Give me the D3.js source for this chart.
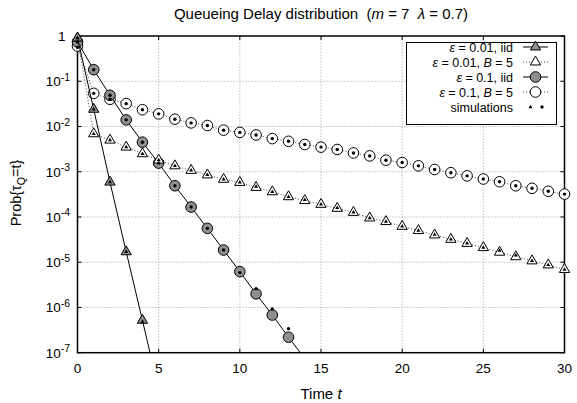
<!DOCTYPE html>
<html>
<head>
<meta charset="utf-8">
<script src="https://cdn.jsdelivr.net/npm/d3@7"></script>
<style>
  body { margin: 0; background: #fff; }
  svg { font-family: "Liberation Sans", Arial, sans-serif; }
  text { white-space: pre; }
</style>
</head>
<body>
<div id="chart"></div>
<script>
// queueing delay distribution, log scale

const timeSteps = [0,1,2,3,4,5,6,7,8,9,10,11,12,13,14,15,16,17,18,19,20,21,22,23,24,25,26,27,28,29,30];

// analytic curves (index = t)
const probEps001Iid = [0.9, 2.4e-2, 5.9e-4, 1.7e-5, 5.2e-7, 1.5e-8];
const probEps001B5 = [0.9, 6.9e-3, 5.0e-3, 3.5e-3, 2.5e-3, 1.8e-3, 1.35e-3, 1.07e-3, 8.5e-4, 6.8e-4,
  5.8e-4, 4.5e-4, 3.6e-4, 2.8e-4, 2.3e-4, 1.9e-4, 1.55e-4, 1.26e-4, 9.5e-5, 7.9e-5,
  6.2e-5, 5.0e-5, 4.0e-5, 3.2e-5, 2.6e-5, 2.1e-5, 1.66e-5, 1.32e-5, 1.07e-5, 8.7e-6, 6.9e-6];
const probEps01Iid = [0.74, 0.18, 4.9e-2, 1.4e-2, 4.5e-3, 1.55e-3, 4.9e-4, 1.66e-4, 5.6e-5, 1.86e-5,
  6.2e-6, 2.0e-6, 6.8e-7, 2.2e-7, 7.4e-8];
const probEps01B5 = [0.6, 5.4e-2, 4.0e-2, 3.2e-2, 2.35e-2, 1.9e-2, 1.45e-2, 1.2e-2, 1.05e-2, 8.3e-3,
  7.4e-3, 6.5e-3, 5.4e-3, 4.7e-3, 4.0e-3, 3.5e-3, 3.1e-3, 2.6e-3, 2.24e-3, 1.8e-3,
  1.6e-3, 1.35e-3, 1.12e-3, 9.5e-4, 8.1e-4, 6.9e-4, 6.0e-4, 4.9e-4, 4.3e-4, 3.7e-4, 3.2e-4];

// simulation points
const simEps001Iid = [0.9, 2.4e-2, 5.9e-4, 1.7e-5, 4.9e-7];
const simEps001B5 = [0.9, 6.9e-3, 5.0e-3, 3.5e-3, 2.5e-3, 1.8e-3, 1.35e-3, 1.07e-3, 8.5e-4, 6.8e-4,
  5.8e-4, 4.7e-4, 3.6e-4, 2.8e-4, 2.4e-4, 1.9e-4, 1.6e-4, 1.26e-4, 9.5e-5, 7.9e-5,
  6.2e-5, 5.0e-5, 4.1e-5, 3.2e-5, 2.6e-5, 2.1e-5, 1.8e-5, 1.42e-5, 1.07e-5, 8.7e-6, 6.9e-6];
const simEps01Iid = [0.74, 0.18, 4.9e-2, 1.4e-2, 4.5e-3, 1.55e-3, 4.9e-4, 1.66e-4, 5.6e-5, 1.86e-5,
  5.9e-6, 2.6e-6, 9.3e-7, 3.4e-7];
const simEps01B5 = [0.56, 5.4e-2, 4.0e-2, 3.2e-2, 2.35e-2, 1.9e-2, 1.45e-2, 1.2e-2, 1.05e-2, 8.3e-3,
  7.4e-3, 6.5e-3, 5.4e-3, 4.7e-3, 4.0e-3, 3.5e-3, 3.1e-3, 2.6e-3, 2.24e-3, 1.8e-3,
  1.6e-3, 1.35e-3, 1.12e-3, 9.5e-4, 8.1e-4, 6.9e-4, 6.0e-4, 4.9e-4, 4.3e-4, 3.7e-4, 3.2e-4];

const xTicks = [0, 5, 10, 15, 20, 25, 30];
const yExponents = [0, -1, -2, -3, -4, -5, -6, -7];

const W = 577, H = 403;
const margin = { top: 36, right: 12.5, bottom: 50.3, left: 77.5 };

const svg = d3.select("#chart").append("svg")
  .attr("width", W).attr("height", H);

const x = d3.scaleLinear().domain([0, 30]).range([margin.left, W - margin.right]);
const y = d3.scaleLog().domain([1e-7, 1]).range([H - margin.bottom, margin.top]);

const x0 = x.range()[0], x1 = x.range()[1];
const y0 = y.range()[0], y1 = y.range()[1];

svg.append("defs").append("clipPath").attr("id", "plot-clip")
  .append("rect").attr("x", x0).attr("y", y1).attr("width", x1 - x0).attr("height", y0 - y1);

// grid
const grid = svg.append("g").attr("stroke", "#888").attr("stroke-width", 0.8)
  .attr("stroke-dasharray", "1,2");
xTicks.slice(1, -1).forEach(t => {
  grid.append("line").attr("x1", x(t)).attr("x2", x(t)).attr("y1", y0).attr("y2", y1);
});
yExponents.slice(1, -1).forEach(e => {
  grid.append("line").attr("x1", x0).attr("x2", x1).attr("y1", y(Math.pow(10, e))).attr("y2", y(Math.pow(10, e)));
});

// axis tick marks (inward on all four sides)
const ticks = svg.append("g").attr("stroke", "#000").attr("stroke-width", 1);
xTicks.forEach(t => {
  ticks.append("line").attr("x1", x(t)).attr("x2", x(t)).attr("y1", y0).attr("y2", y0 - 4);
  ticks.append("line").attr("x1", x(t)).attr("x2", x(t)).attr("y1", y1).attr("y2", y1 + 4);
});
yExponents.forEach(e => {
  const yy = y(Math.pow(10, e));
  ticks.append("line").attr("x1", x0).attr("x2", x0 + 4).attr("y1", yy).attr("y2", yy);
  ticks.append("line").attr("x1", x1).attr("x2", x1 - 4).attr("y1", yy).attr("y2", yy);
});

// frame
svg.append("rect").attr("x", x0).attr("y", y1).attr("width", x1 - x0).attr("height", y0 - y1)
  .attr("fill", "none").attr("stroke", "#000").attr("stroke-width", 1.5);

// tick labels
svg.append("g").selectAll("text").data(xTicks).enter().append("text")
  .attr("x", d => x(d)).attr("y", y0 + 20.5)
  .attr("text-anchor", "middle").attr("font-size", "13.5px").text(d => d);

yExponents.forEach(e => {
  const t = svg.append("text")
    .attr("y", y(Math.pow(10, e)) + 4.8)
    .attr("text-anchor", "end").attr("font-size", "13.5px");
  if (e === 0) {
    t.attr("x", 65.5).text("1");
  } else {
    t.attr("x", 70).text("10");
    t.append("tspan").attr("dy", -5.5).attr("font-size", "10.5px").text(String(e));
  }
});

// titles
const title = svg.append("text").attr("x", (x0 + x1) / 2).attr("y", 19)
  .attr("text-anchor", "middle").attr("font-size", "15px");
title.append("tspan").text("Queueing Delay distribution  (");
title.append("tspan").attr("font-style", "italic").text("m");
title.append("tspan").text(" = 7  ");
title.append("tspan").attr("font-style", "italic").text("λ");
title.append("tspan").text(" = 0.7)");

const xLabel = svg.append("text").attr("x", (x0 + x1) / 2).attr("y", 399)
  .attr("text-anchor", "middle").attr("font-size", "15px");
xLabel.append("tspan").text("Time ");
xLabel.append("tspan").attr("font-style", "italic").text("t");

const yLabel = svg.append("text")
  .attr("transform", "translate(21,193) rotate(-90)")
  .attr("text-anchor", "middle").attr("font-size", "14.5px");
yLabel.append("tspan").text("Prob{τ");
yLabel.append("tspan").attr("dy", 3.5).attr("font-size", "10.5px").text("Q");
yLabel.append("tspan").attr("dy", -3.5).text("=t}");

// series
const GRAY = "#8f8f8f";
const series = [
  { probs: probEps01B5, sims: simEps01B5, shape: "circle", fill: "#fff", dashed: true,
    label: [["ε", true], [" = 0.1, ", false], ["B", true], [" = 5", false]] },
  { probs: probEps01Iid, sims: simEps01Iid, shape: "circle", fill: GRAY, dashed: false,
    label: [["ε", true], [" = 0.1, iid", false]] },
  { probs: probEps001B5, sims: simEps001B5, shape: "triangle", fill: "#fff", dashed: true,
    label: [["ε", true], [" = 0.01, ", false], ["B", true], [" = 5", false]] },
  { probs: probEps001Iid, sims: simEps001Iid, shape: "triangle", fill: GRAY, dashed: false,
    label: [["ε", true], [" = 0.01, iid", false]] }
];

const triBig = d3.symbol().type(d3.symbolTriangle).size(46);
const triSmall = d3.symbol().type(d3.symbolTriangle).size(7);

const line = d3.line().x(d => x(d.t)).y(d => y(d.p));

function styleLine(sel, dashed) {
  sel.attr("fill", "none")
    .attr("stroke", dashed ? "#444" : "#000")
    .attr("stroke-width", 1)
    .attr("stroke-dasharray", dashed ? "1,2" : null);
}

function drawMarker(g, shape, fill, cx, cy) {
  if (shape === "circle") {
    g.append("circle").attr("cx", cx).attr("cy", cy).attr("r", 5.3)
      .attr("fill", fill).attr("stroke", "#000").attr("stroke-width", 1);
  } else {
    g.append("path").attr("d", triBig()).attr("transform", `translate(${cx},${cy})`)
      .attr("fill", fill).attr("stroke", "#000").attr("stroke-width", 1);
  }
}

function drawSim(g, shape, cx, cy) {
  if (shape === "circle") {
    g.append("circle").attr("cx", cx).attr("cy", cy).attr("r", 1.7).attr("fill", "#000");
  } else {
    g.append("path").attr("d", triSmall()).attr("transform", `translate(${cx},${cy})`).attr("fill", "#000");
  }
}

const dataLayer = svg.append("g");
series.forEach(s => {
  const pts = s.probs.map((p, i) => ({ t: timeSteps[i], p }));
  dataLayer.append("path").datum(pts).attr("d", line)
    .attr("clip-path", "url(#plot-clip)")
    .call(styleLine, s.dashed);
  const mg = dataLayer.append("g");
  pts.filter(d => d.p >= 1e-7).forEach(d => drawMarker(mg, s.shape, s.fill, x(d.t), y(d.p)));
});

const simLayer = svg.append("g");
series.forEach(s => {
  s.sims.forEach((p, i) => {
    if (p >= 1e-7) drawSim(simLayer, s.shape, x(timeSteps[i]), y(p));
  });
});

// legend
const legendOrder = [series[3], series[2], series[1], series[0]];
const lg = svg.append("g");
lg.append("rect").attr("x", 406.5).attr("y", 42.5).attr("width", 150).attr("height", 82)
  .attr("fill", "#fff").attr("stroke", "#000").attr("stroke-width", 1);

const rowY = [47, 62, 77, 92, 107];
legendOrder.forEach((s, i) => {
  const ty = rowY[i];
  const t = lg.append("text").attr("x", 513).attr("y", ty + 4.5)
    .attr("text-anchor", "end").attr("font-size", "12.5px");
  s.label.forEach(([txt, it]) => {
    t.append("tspan").attr("font-style", it ? "italic" : null).text(txt);
  });
  lg.append("line").attr("x1", 523).attr("x2", 548).attr("y1", ty).attr("y2", ty)
    .call(styleLine, s.dashed);
  drawMarker(lg, s.shape, s.fill, 535.5, ty);
});
lg.append("text").attr("x", 513).attr("y", rowY[4] + 4.5)
  .attr("text-anchor", "end").attr("font-size", "12.5px").text("simulations");
drawSim(lg, "triangle", 530.5, rowY[4]);
drawSim(lg, "circle", 542, rowY[4]);
</script>
</body>
</html>
